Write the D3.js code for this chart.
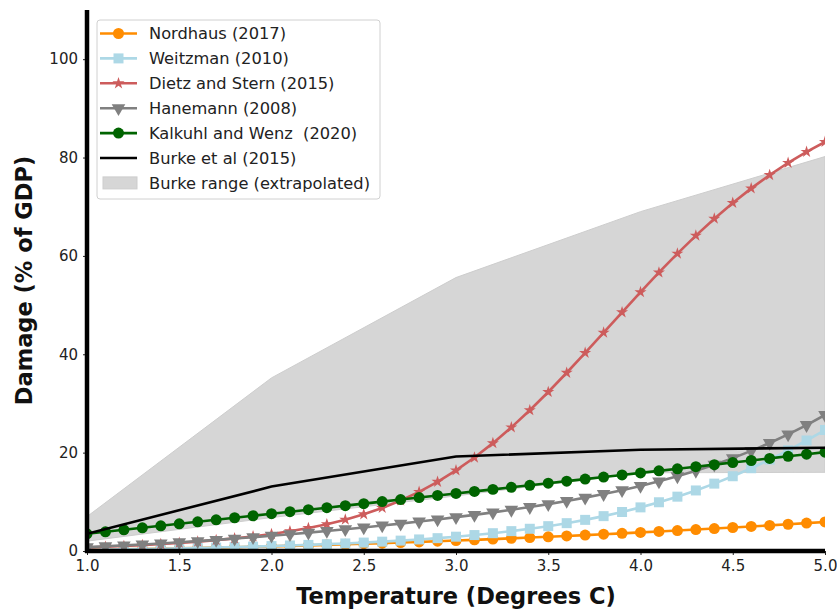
<!DOCTYPE html>
<html>
<head>
<meta charset="utf-8">
<script src="https://cdn.jsdelivr.net/npm/d3@7"></script>
<style>
  html, body { margin: 0; padding: 0; background: #fff; }
  svg { display: block; font-family: "DejaVu Sans", sans-serif; }
  .legend-label { white-space: pre; }
</style>
</head>
<body>
<svg id="chart" width="837" height="610"></svg>
<script>
// Temperature grid (degrees C)
const temps = [1.0,1.1,1.2,1.3,1.4,1.5,1.6,1.7,1.8,1.9,2.0,2.1,2.2,2.3,2.4,2.5,2.6,2.7,2.8,2.9,3.0,
               3.1,3.2,3.3,3.4,3.5,3.6,3.7,3.8,3.9,4.0,4.1,4.2,4.3,4.4,4.5,4.6,4.7,4.8,4.9,5.0];

// Damage (% of GDP) for each damage function
const nordhaus = [0.24,0.29,0.34,0.40,0.46,0.53,0.60,0.68,0.76,0.85,0.94,1.04,1.14,1.25,1.36,1.48,1.60,1.72,1.85,1.99,2.12,
                  2.27,2.42,2.57,2.73,2.89,3.06,3.23,3.41,3.59,3.78,3.97,4.16,4.36,4.57,4.78,4.99,5.21,5.44,5.67,5.90];
const weitzman = [0.24,0.29,0.35,0.41,0.47,0.54,0.62,0.70,0.80,0.89,1.00,1.12,1.24,1.39,1.54,1.71,1.90,2.11,2.35,2.61,2.91,
                  3.24,3.62,4.04,4.52,5.05,5.66,6.33,7.09,7.93,8.87,9.91,11.05,12.31,13.70,15.20,16.83,18.59,20.47,22.47,24.60];
const dietzStern = [0.70,0.85,1.01,1.20,1.41,1.64,1.90,2.21,2.56,2.96,3.44,4.00,4.66,5.44,6.37,7.46,8.76,10.27,12.03,14.07,16.39,
                    19.01,21.93,25.14,28.62,32.33,36.24,40.28,44.40,48.54,52.63,56.63,60.47,64.13,67.57,70.77,73.73,76.45,78.92,81.16,83.17];
const hanemann = [0.79,0.96,1.14,1.33,1.54,1.77,2.01,2.26,2.53,2.81,3.11,3.41,3.74,4.08,4.43,4.79,5.18,5.57,5.99,6.42,6.88,
                  7.35,7.85,8.38,8.94,9.53,10.17,10.85,11.58,12.37,13.23,14.17,15.19,16.31,17.54,18.88,20.35,21.96,23.71,25.61,27.67];
const kalkuhlWenz = [3.50,3.91,4.31,4.72,5.12,5.53,5.94,6.35,6.76,7.17,7.58,7.99,8.40,8.81,9.22,9.63,10.04,10.46,10.87,11.29,11.70,
                     12.12,12.53,12.95,13.36,13.78,14.20,14.62,15.04,15.46,15.88,16.30,16.72,17.14,17.56,17.98,18.40,18.83,19.25,19.68,20.10];

// Burke et al. (2015) central estimate and extrapolated range
const burkeTemps = [1, 2, 3, 4, 5];
const burkeMid  = [3.5, 13.1, 19.2, 20.6, 21.0];
const burkeLow  = [2.0, 6.8, 11.2, 15.9, 16.0];
const burkeHigh = [7.0, 35.2, 55.6, 69.0, 80.2];

// Axis ticks
const xTicks = [1.0, 1.5, 2.0, 2.5, 3.0, 3.5, 4.0, 4.5, 5.0];
const yTicks = [0, 20, 40, 60, 80, 100];

const series = [
  { name: "Nordhaus (2017)",          values: nordhaus,    color: "#ff8c00", symbol: d3.symbolCircle,   size: 95,  rotate: 0 },
  { name: "Weitzman (2010)",          values: weitzman,    color: "#add8e6", symbol: d3.symbolSquare,   size: 100, rotate: 0 },
  { name: "Dietz and Stern (2015)",   values: dietzStern,  color: "#cd5c5c", symbol: d3.symbolStar,     size: 45,  rotate: 0 },
  { name: "Hanemann (2008)",          values: hanemann,    color: "#808080", symbol: d3.symbolTriangle, size: 80,  rotate: 180 },
  { name: "Kalkuhl and Wenz  (2020)", values: kalkuhlWenz, color: "#006400", symbol: d3.symbolCircle,   size: 95,  rotate: 0 }
];

const svg = d3.select("#chart");
const margin = { left: 87, right: 12, top: 10, bottom: 59 };
const W = 837, H = 610;
const x = d3.scaleLinear().domain([1, 5]).range([margin.left, W - margin.right]);
const y = d3.scaleLinear().domain([0, 110]).range([H - margin.bottom, margin.top]);

svg.append("defs").append("clipPath").attr("id", "plotClip")
  .append("rect")
  .attr("x", x(1)).attr("y", y(110))
  .attr("width", x(5) - x(1)).attr("height", y(0) - y(110));

const plot = svg.append("g").attr("clip-path", "url(#plotClip)");

// Burke range band
const band = d3.area()
  .x((d, i) => x(burkeTemps[i]))
  .y0((d, i) => y(burkeLow[i]))
  .y1((d, i) => y(burkeHigh[i]));
plot.append("path")
  .datum(burkeTemps)
  .attr("d", band)
  .attr("fill", "#d6d6d6")
  .attr("stroke", "#cdcdcd")
  .attr("stroke-width", 1);

// Damage function lines with markers
const line = d3.line().x((d, i) => x(temps[i])).y(d => y(d));
series.forEach(s => {
  plot.append("path")
    .datum(s.values)
    .attr("d", line)
    .attr("fill", "none")
    .attr("stroke", s.color)
    .attr("stroke-width", 2.6);
  plot.append("g").selectAll("path")
    .data(s.values)
    .join("path")
    .attr("d", d3.symbol().type(s.symbol).size(s.size))
    .attr("transform", (d, i) => `translate(${x(temps[i])},${y(d)}) rotate(${s.rotate})`)
    .attr("fill", s.color);
});

// Burke central line
plot.append("path")
  .datum(burkeMid)
  .attr("d", d3.line().x((d, i) => x(burkeTemps[i])).y(d => y(d)))
  .attr("fill", "none")
  .attr("stroke", "#000")
  .attr("stroke-width", 2.6);

// Axes
const xAxis = svg.append("g")
  .attr("transform", `translate(0,${y(0)})`)
  .call(d3.axisBottom(x).tickValues(xTicks).tickFormat(d3.format(".1f")).tickSize(4).tickPadding(5));
const yAxis = svg.append("g")
  .attr("transform", `translate(${x(1)},0)`)
  .call(d3.axisLeft(y).tickValues(yTicks).tickSize(4).tickPadding(5));

[xAxis, yAxis].forEach(g => {
  g.select(".domain").remove();
  g.selectAll(".tick line").attr("stroke", "#222").attr("stroke-width", 1);
  g.selectAll(".tick text")
    .attr("fill", "#222")
    .style("font-family", "'DejaVu Sans', sans-serif")
    .style("font-size", "15px");
});

// Thick left and bottom spines
svg.append("line")
  .attr("x1", x(1)).attr("x2", x(1))
  .attr("y1", y(110)).attr("y2", y(0) + 2)
  .attr("stroke", "#000").attr("stroke-width", 4.5);
svg.append("line")
  .attr("x1", x(1) - 2).attr("x2", x(5))
  .attr("y1", y(0)).attr("y2", y(0))
  .attr("stroke", "#000").attr("stroke-width", 4.5);

// Axis titles
svg.append("text")
  .attr("x", (x(1) + x(5)) / 2).attr("y", 604)
  .attr("text-anchor", "middle")
  .style("font-size", "22.5px").style("font-weight", "bold")
  .attr("fill", "#111")
  .text("Temperature (Degrees C)");
svg.append("text")
  .attr("transform", `translate(32,${(y(0) + y(110)) / 2}) rotate(-90)`)
  .attr("text-anchor", "middle")
  .style("font-size", "22.5px").style("font-weight", "bold")
  .attr("fill", "#111")
  .text("Damage (% of GDP)");

// Legend
const legend = svg.append("g");
legend.append("rect")
  .attr("x", 97).attr("y", 20).attr("width", 283).attr("height", 179)
  .attr("rx", 3).attr("fill", "#fff").attr("fill-opacity", 0.85)
  .attr("stroke", "#d0d0d0").attr("stroke-width", 1);

const rowY = i => 33.5 + i * 24.9;
const hx0 = 100, hx1 = 137, tx = 149;
series.forEach((s, i) => {
  const g = legend.append("g");
  g.append("line").attr("x1", hx0).attr("x2", hx1).attr("y1", rowY(i)).attr("y2", rowY(i))
    .attr("stroke", s.color).attr("stroke-width", 2.6);
  g.append("path")
    .attr("d", d3.symbol().type(s.symbol).size(s.size))
    .attr("transform", `translate(${(hx0 + hx1) / 2},${rowY(i)}) rotate(${s.rotate})`)
    .attr("fill", s.color);
  g.append("text").attr("class", "legend-label").attr("x", tx).attr("y", rowY(i)).attr("dy", "0.35em")
    .style("font-size", "16.25px").attr("fill", "#222").text(s.name);
});
legend.append("line").attr("x1", hx0).attr("x2", hx1).attr("y1", rowY(5)).attr("y2", rowY(5))
  .attr("stroke", "#000").attr("stroke-width", 2.6);
legend.append("text").attr("class", "legend-label").attr("x", tx).attr("y", rowY(5)).attr("dy", "0.35em")
  .style("font-size", "16.25px").attr("fill", "#222").text("Burke et al (2015)");
legend.append("rect").attr("x", 103).attr("y", rowY(6) - 6).attr("width", 34).attr("height", 12)
  .attr("fill", "#d6d6d6").attr("stroke", "#cdcdcd").attr("stroke-width", 1);
legend.append("text").attr("class", "legend-label").attr("x", tx).attr("y", rowY(6)).attr("dy", "0.35em")
  .style("font-size", "16.25px").attr("fill", "#222").text("Burke range (extrapolated)");
</script>
</body>
</html>
